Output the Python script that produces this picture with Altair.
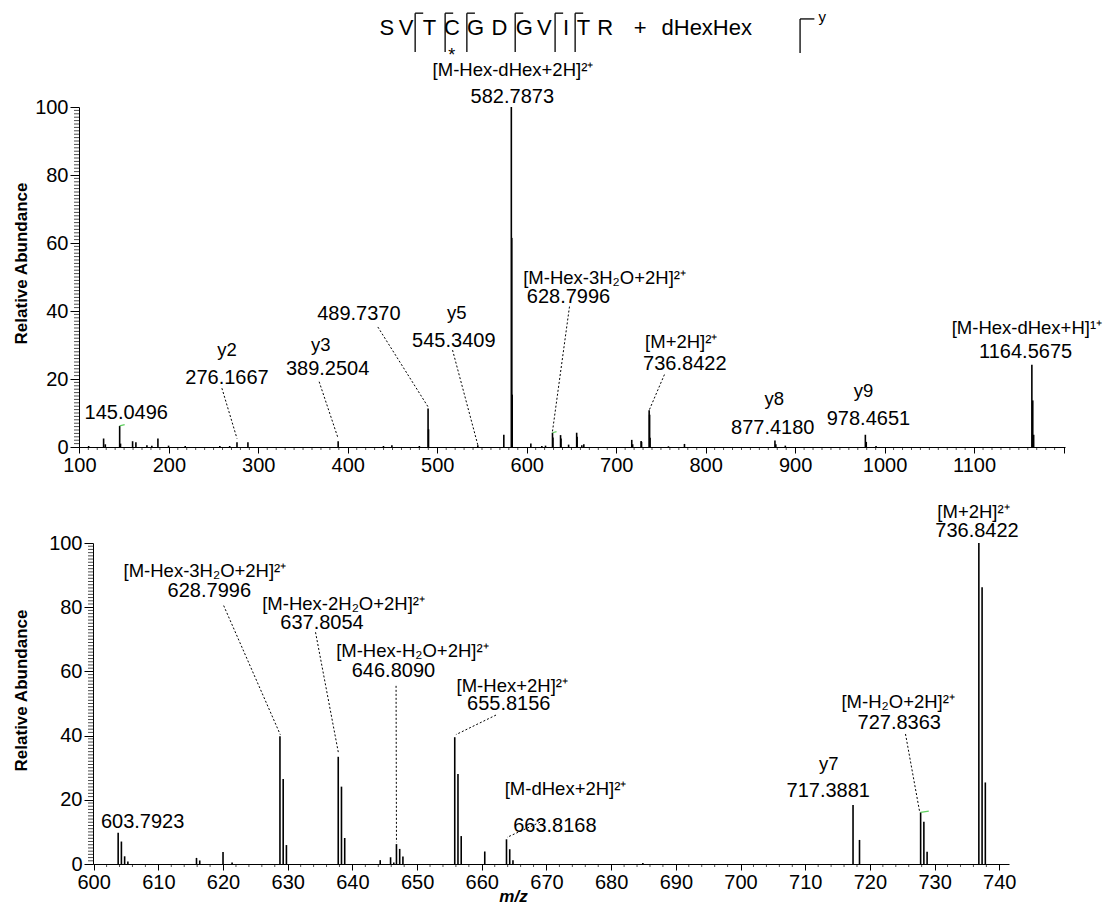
import altair as alt
import pandas as pd

FONT = "Liberation Sans"

# ---------------- top spectrum (m/z 100-1200) ----------------
top_mz = [110.4, 127.1, 129.0, 145.05, 146.0, 159.5, 163.2, 175.5, 181.0, 187.8, 199.7, 218.3,
          257.0, 268.0, 276.17, 288.4, 389.25, 439.9, 449.3, 480.0, 489.74, 490.24, 545.34,
          574.4, 582.79, 583.29, 583.79, 604.6, 616.9, 621.0, 628.80, 629.30, 637.81, 638.31,
          646.81, 655.82, 656.32, 661.6, 663.82, 717.39, 718.39, 727.84, 728.34, 736.84, 737.34,
          737.84, 758.4, 776.3, 877.42, 878.42, 889.0, 978.47, 979.47, 990.4, 1164.57, 1165.57,
          1166.57]
top_int = [0.3, 2.5, 0.8, 6.2, 1.0, 1.7, 1.4, 0.5, 0.4, 2.5, 0.4, 0.3,
           0.3, 0.3, 1.4, 1.4, 1.7, 0.3, 0.5, 0.3, 11.3, 5.2, 0.5,
           3.6, 100.0, 61.5, 15.4, 1.0, 0.3, 0.4, 4.2, 2.8, 3.5, 2.5,
           0.7, 4.2, 3.0, 0.5, 0.8, 2.1, 0.8, 1.8, 1.5, 10.8, 9.5,
           2.7, 0.2, 0.9, 1.9, 0.8, 0.4, 3.6, 1.5, 0.3, 24.2, 13.7,
           3.6]

top_num_text = ["145.0496", "276.1667", "389.2504", "489.7370", "545.3409", "582.7873",
                "628.7996", "736.8422", "877.4180", "978.4651", "1164.5675"]
top_num_x = [152.4, 265.0, 377.5, 412.4, 518.5, 583.9, 646.7, 776.7, 875.0, 981.9, 1157.6]
top_num_y = [10.1, 20.4, 22.8, 39.1, 31.3, 103.0, 44.2, 24.3, 5.5, 8.2, 28.0]

top_name_text = ["y2", "y3", "y5", "[M-Hex-dHex+2H]²⁺", "[M-Hex-3H₂O+2H]²⁺", "[M+2H]²⁺",
                 "y8", "y9", "[M-Hex-dHex+H]¹⁺"]
top_name_x = [265.0, 369.9, 521.9, 584.6, 687.0, 772.7, 876.6, 976.3, 1159.0]
top_name_y = [28.5, 29.9, 39.3, 110.9, 49.7, 30.9, 14.1, 16.6, 35.1]

top_lead_x = [259.3, 368.0, 433.6, 517.1, 647.8, 753.9]
top_lead_y = [17.3, 19.2, 35.3, 28.5, 41.3, 21.3]
top_lead_x2 = [276.17, 389.25, 489.74, 545.34, 628.80, 737.0]
top_lead_y2 = [2.5, 2.5, 11.8, 0.6, 4.6, 10.9]

top_green_x = [145.05, 628.80]
top_green_x2 = [150.6, 633.3]
top_green_y = [6.2, 4.2]
top_green_y2 = [6.6, 4.5]

# peptide sequence header (drawn in the top panel's data space)
seq_letters = ["S", "V", "T", "C", "G", "D", "G", "V", "I", "T", "R", "+", "dHexHex"]
seq_letter_x = [443.7, 465.1, 491.2, 516.3, 542.8, 569.4, 597.3, 619.7, 643.9, 663.5, 687.6,
                726.7, 801.2]
seq_letter_y = [123.1] * len(seq_letters)
cleave_x = [475.3, 508.8, 533.1, 587.1, 631.7, 654.1, 905.5]
cleave_top = [127.6, 127.6, 127.6, 127.6, 127.6, 127.6, 125.9]
cleave_bottom = [116.2, 116.2, 116.2, 116.2, 116.2, 116.2, 115.9]
cleave_len = [9.0, 9.0, 9.0, 9.0, 9.0, 9.0, 16.0]
small_text = ["*", "y"]
small_x = [516.3, 930.2]
small_y = [115.1, 126.5]
small_size = [18, 15]

# ---------------- bottom spectrum (m/z 600-742) ----------------
bot_mz = [603.79, 604.29, 604.79, 605.29, 615.9, 616.4, 620.0, 621.4, 628.80, 629.30, 629.80,
          637.81, 638.31, 638.81, 644.3, 645.9, 646.4, 646.81, 647.31, 647.81, 655.82, 656.32,
          656.82, 660.46, 663.82, 664.32, 664.82, 684.9, 717.39, 718.39, 727.84, 728.34, 728.84,
          736.84, 737.34, 737.84]
bot_int = [9.7, 7.0, 2.4, 0.8, 1.9, 1.1, 3.7, 0.5, 39.8, 26.5, 5.9,
           33.4, 24.1, 8.1, 1.2, 2.1, 0.5, 6.2, 4.7, 2.3, 39.5, 28.0,
           8.7, 3.9, 7.7, 4.6, 1.2, 0.3, 18.4, 7.5, 16.1, 13.2, 3.8,
           100.0, 86.2, 25.4]

bot_num_text = ["603.7923", "628.7996", "637.8054", "646.8090", "655.8156", "663.8168",
                "717.3881", "727.8363", "736.8422"]
bot_num_x = [607.57, 617.88, 635.3, 646.34, 664.17, 671.3, 713.56, 724.53, 736.55]
bot_num_y = [13.2, 84.9, 75.2, 60.2, 49.8, 11.7, 22.6, 43.9, 103.8]

bot_name_text = ["[M-Hex-3H₂O+2H]²⁺", "[M-Hex-2H₂O+2H]²⁺", "[M-Hex-H₂O+2H]²⁺", "[M-Hex+2H]²⁺",
                 "[M-dHex+2H]²⁺", "y7", "[M-H₂O+2H]²⁺", "[M+2H]²⁺"]
bot_name_x = [617.2, 638.64, 649.27, 664.71, 672.95, 713.63, 724.37, 736.01]
bot_name_y = [91.4, 81.0, 66.2, 55.5, 23.5, 31.0, 50.6, 109.8]

bot_lead_x = [620.1, 634.3, 646.75, 662.2, 669.0, 725.5]
bot_lead_y = [80.5, 72.2, 55.5, 46.4, 13.0, 40.5]
bot_lead_x2 = [628.85, 637.85, 646.81, 656.0, 663.9, 727.7]
bot_lead_y2 = [40.3, 34.5, 6.8, 40.3, 8.3, 16.1]

bot_green_x = [727.84]
bot_green_x2 = [729.1]
bot_green_y = [16.1]
bot_green_y2 = [16.5]

# axis ticks
y_major = [0, 20, 40, 60, 80, 100]
y_minor = [v for v in range(1, 100) if v % 20 != 0]
top_x_major = list(range(100, 1201, 100))
top_x_minor = [v for v in range(110, 1200, 10) if v % 100 != 0]
bot_x_major = list(range(600, 741, 10))
bot_x_minor = [v for v in range(602, 741, 2) if v % 10 != 0]


def y_axis(title_pad, title_y, offset=0):
    return alt.Axis(
        title="Relative Abundance", titleFont=FONT, titleFontSize=17, titleFontWeight="bold",
        titleColor="black", titlePadding=title_pad, titleY=title_y, offset=offset,
        values=y_major, labelFont=FONT, labelFontSize=20, labelColor="black", labelPadding=2,
        labelOverlap=False, format="d", tickSize=9, tickColor="black", domainColor="black",
        grid=False,
    )


def x_axis(vals, last_label, title=None, title_x=None):
    kw = dict(
        values=vals,
        labelExpr="datum.value <= %d ? datum.label : ''" % last_label,
        labelFont=FONT, labelFontSize=20, labelColor="black", labelPadding=2,
        labelOverlap=False, labelFlush=False, format="d", tickSize=6,
        tickColor="black", domainColor="black", grid=False,
    )
    if title is None:
        kw["title"] = None
    else:
        kw.update(title=title, titleFont=FONT, titleFontSize=17, titleFontWeight="bold",
                  titleFontStyle="italic", titleColor="black", titlePadding=-4)
        if title_x is not None:
            kw["titleX"] = title_x
    return alt.Axis(**kw)


def panel(mz, inten, num_text, num_x, num_y, name_text, name_x, name_y,
          lx, ly, lx2, ly2, gx, gx2, gy, gy2, xdomain, xaxis, yaxis, xminor,
          width, height, inset=0, header=False):
    xs = alt.Scale(domain=xdomain, nice=False, zero=False, range=[inset, width])
    ys = alt.Scale(domain=[0, 100], nice=False)

    def X(f):
        return alt.X(f, type="quantitative", scale=xs, axis=xaxis)

    def Y(f):
        return alt.Y(f, type="quantitative", scale=ys, axis=yaxis)

    peaks = alt.Chart(pd.DataFrame({"mz": mz, "ab": inten})).mark_rule(
        color="black", strokeWidth=1.6).encode(x=X("mz"), y=Y("ab"), y2=alt.datum(0))
    leads = alt.Chart(pd.DataFrame({"x": lx, "y": ly, "x2": lx2, "y2": ly2})).mark_rule(
        color="black", strokeWidth=1, strokeDash=[2, 2]).encode(
        x=X("x"), y=Y("y"), x2="x2", y2="y2")
    green = alt.Chart(pd.DataFrame({"x": gx, "y": gy, "x2": gx2, "y2": gy2})).mark_rule(
        color="#5fcf5f", strokeWidth=1.2).encode(x=X("x"), y=Y("y"), x2="x2", y2="y2")
    nums = alt.Chart(pd.DataFrame({"x": num_x, "y": num_y, "t": num_text})).mark_text(
        font=FONT, fontSize=20, color="black", align="center", baseline="middle").encode(
        x=X("x"), y=Y("y"), text="t:N")
    names = alt.Chart(pd.DataFrame({"x": name_x, "y": name_y, "t": name_text})).mark_text(
        font=FONT, fontSize=18.5, color="black", align="center", baseline="middle").encode(
        x=X("x"), y=Y("y"), text="t:N")
    xmin_ticks = alt.Chart(pd.DataFrame({"v": xminor})).mark_tick(
        orient="vertical", size=3, thickness=1, yOffset=1.5, color="black").encode(
        x=X("v"), y=alt.datum(0))
    ymin_ticks = alt.Chart(pd.DataFrame({"v": y_minor})).mark_tick(
        orient="horizontal", size=5, thickness=1, xOffset=-2.5, color="black").encode(
        x=alt.datum(xdomain[0]), y=Y("v"))
    layers = [xmin_ticks, ymin_ticks, peaks, leads, green, nums, names]
    if header:
        letters = alt.Chart(pd.DataFrame({"x": seq_letter_x, "y": seq_letter_y,
                                          "t": seq_letters})).mark_text(
            font=FONT, fontSize=22, color="black", align="center", baseline="middle").encode(
            x=X("x"), y=Y("y"), text="t:N")
        segs = pd.DataFrame({
            "x": cleave_x + cleave_x,
            "y": cleave_top + cleave_top,
            "x2": cleave_x + [a + b for a, b in zip(cleave_x, cleave_len)],
            "y2": cleave_bottom + cleave_top,
        })
        brackets = alt.Chart(segs).mark_rule(color="black", strokeWidth=1.3).encode(
            x=X("x"), y=Y("y"), x2="x2", y2="y2")
        smalls = alt.Chart(pd.DataFrame({"x": small_x, "y": small_y, "t": small_text,
                                         "s": small_size})).mark_text(
            font=FONT, color="black", align="center", baseline="middle").encode(
            x=X("x"), y=Y("y"), text="t:N", size=alt.Size("s:Q", scale=None, legend=None))
        layers += [letters, brackets, smalls]
    return alt.layer(*layers).properties(width=width, height=height)


top = panel(top_mz, top_int, top_num_text, top_num_x, top_num_y, top_name_text, top_name_x,
            top_name_y, top_lead_x, top_lead_y, top_lead_x2, top_lead_y2,
            top_green_x, top_green_x2, top_green_y, top_green_y2,
            [99.6, 1201.6], x_axis(top_x_major, 1100), y_axis(4, 156), top_x_minor,
            986, 340, header=True)

# the lower panel's axes sit 14 px further right than the upper panel's
INSET = 14
bottom = panel(bot_mz, bot_int, bot_num_text, bot_num_x, bot_num_y, bot_name_text, bot_name_x,
               bot_name_y, bot_lead_x, bot_lead_y, bot_lead_x2, bot_lead_y2,
               bot_green_x, bot_green_x2, bot_green_y, bot_green_y2,
               [599.9, 741.5], x_axis(bot_x_major, 740, title="m/z", title_x=420 + INSET),
               y_axis(18, 147, offset=-INSET), bot_x_minor, 916 + INSET, 321, inset=INSET)

chart = alt.vconcat(top, bottom, spacing=27).properties(
    padding={"left": 4, "top": 1, "right": 0, "bottom": 0},
    background="white",
).configure_view(stroke=None)

chart.save("out.html", embed_options={"renderer": "svg", "actions": False})
